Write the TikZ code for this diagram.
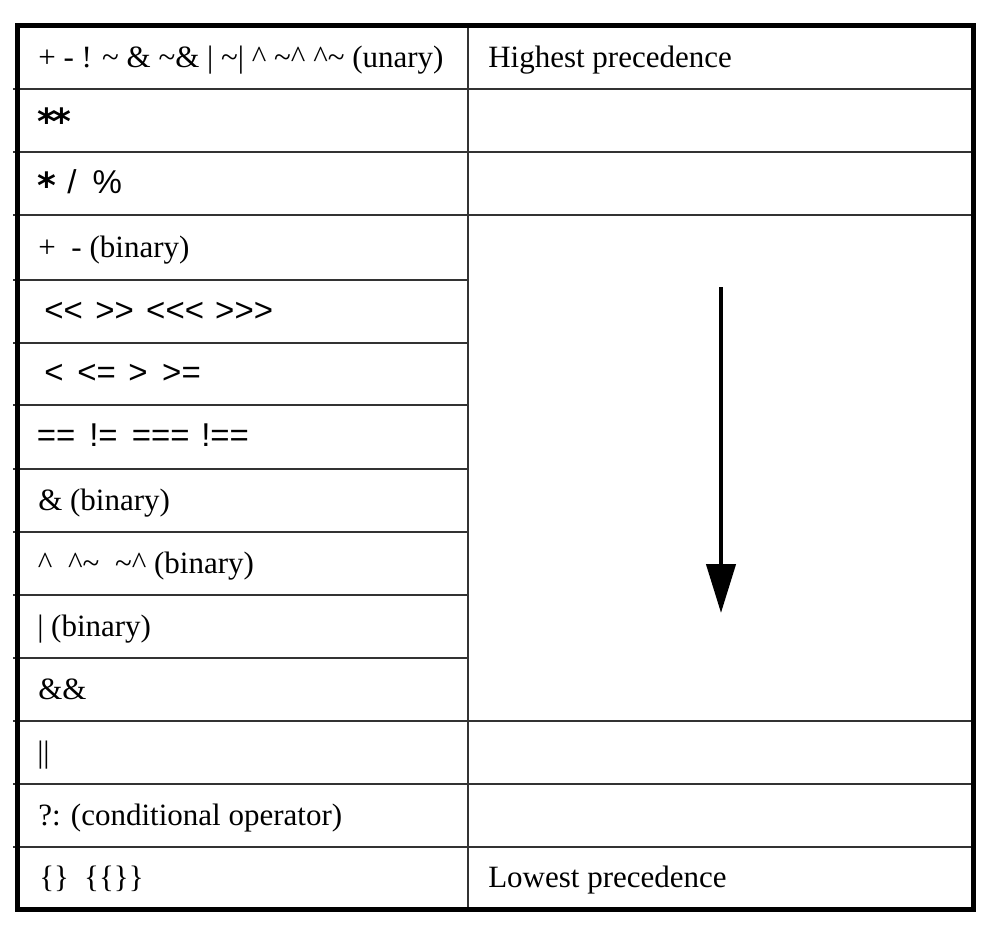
\documentclass[tikz,border=0pt]{standalone}
\usepackage{fontspec}
\setmainfont{Liberation Serif}
\newfontfamily\sansop{Liberation Sans}[Ligatures=TeXOff]
\newfontfamily\astfont{DejaVu Sans}[Ligatures=TeXOff]
\usetikzlibrary{arrows.meta}
\newcommand\gp[2]{\makebox[#1pt][l]{#2}}
\newcommand\optil{\textasciitilde}
\newcommand\opcar{\textasciicircum}
\newcommand\opast{\raisebox{-3.4pt}{\astfont\bfseries\fontsize{27}{30}\selectfont*}}
\begin{document}
\begin{tikzpicture}[x=0.75pt,y=-0.75pt,
  txt/.style={anchor=base west, inner sep=0pt, font=\fontsize{23.25}{28}\selectfont},
  sym/.style={anchor=base west, inner sep=0pt, font=\sansop\fontsize{24.75}{30}\selectfont},
  gridline/.style={line width=1.5pt, black!80},
  outerframe/.style={line width=3.75pt, black},
  arrowline/.style={line width=3.3pt, black, -{Triangle[width=21.75pt,length=36.75pt]}}]
\useasboundingbox (0,0) rectangle (990,926);
% grid
\foreach \y in {88.5,152,215,720.5,783.5,846.5}
  \draw[gridline] (13,\y) -- (973,\y);
\foreach \y in {280,342.5,405,468.5,531.5,594.5,657.5}
  \draw[gridline] (13,\y) -- (467.7,\y);
\draw[gridline] (467.7,25.5) -- (467.7,909);
\draw[outerframe] (17,25.5) rectangle (973,909);
% left column
\node[txt] (l1) at (38,67) {+ - ! \optil{} \& \optil\& | \optil| \opcar{} \optil\opcar{} \opcar\optil{} (unary)};
\node[sym] (l2) at (37,130.25) {\opast\kern-3pt\opast};
\node[sym] (l3) at (37,193.5) {\gp{22.5}{\opast}\gp{19}{/}\%};
\node[txt] (l4) at (38,257.5) {+\hspace{6pt} - (binary)};
\node[sym] (l5) at (44,321.25) {\gp{38.25}{<<}\gp{38.25}{>>}\gp{51.75}{<<<}>>>};
\node[sym] (l6) at (44,383.75) {\gp{24.75}{<}\gp{38.25}{<=}\gp{25.5}{>}>=};
\node[sym] (l7) at (36.5,446.75) {\gp{39.4}{==}\gp{31.9}{!=}\gp{52.1}{===}!==};
\node[txt] (l8) at (38,510) {\& (binary)};
\node[txt] (l9) at (37.5,573) {\opcar\hspace{6pt} \opcar\optil\hspace{6pt} \optil\opcar{} (binary)};
\node[txt] (l10) at (37,636) {| (binary)};
\node[txt] (l11) at (38,699) {\&\&};
\node[txt] (l12) at (37,762) {||};
\node[txt] (l13) at (38,825) {?: (conditional operator)};
\node[txt] (l14) at (39,887.75) {\{\}\hspace{5.6pt} \{\{\}\}};
% right column
\node[txt] (r1) at (488,67) {Highest precedence};
\node[txt] (r14) at (488,887.75) {Lowest precedence};
% arrow
\coordinate (atop) at (721,287);
\coordinate (abot) at (721,613);
\draw[arrowline] (atop) -- (abot);
\end{tikzpicture}
\end{document}
